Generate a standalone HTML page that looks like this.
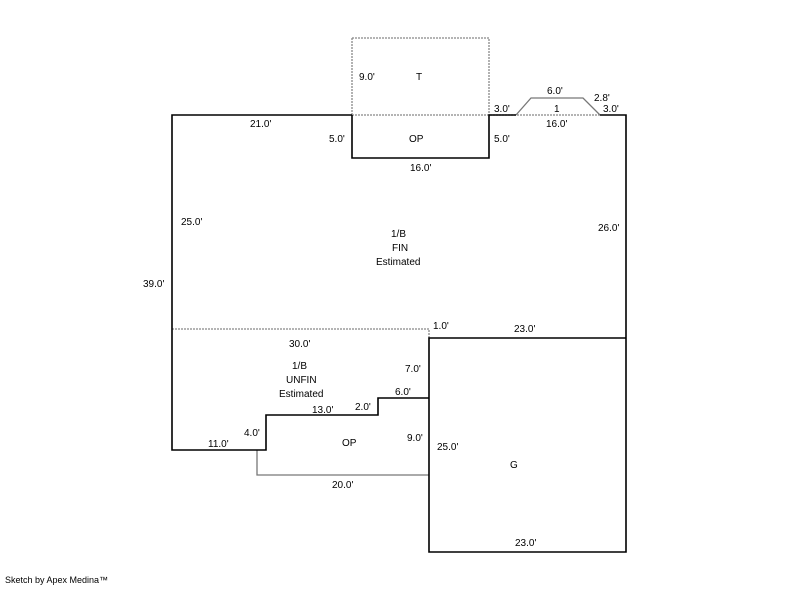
<!DOCTYPE html><html><head><style>body{margin:0;background:#fff}text{font-family:"Liberation Sans",sans-serif;font-size:10px;fill:#000}</style></head><body>
<svg width="800" height="587" xmlns="http://www.w3.org/2000/svg">
<g fill="none" stroke-width="2">
<path d="M352 38H489V115M352 38V115" stroke="#888" stroke-width="1.3" stroke-dasharray="2,1"/>
<path d="M172 329H429V338" stroke="#888" stroke-width="1.3" stroke-dasharray="2,1"/>
<path d="M352 115H600" stroke="#888" stroke-width="1.3" stroke-dasharray="2,1"/>
<path d="M516 115L531 98H583L600 115" stroke="#777" stroke-width="1.3"/>
<path d="M257 450V475H429" stroke="#777" stroke-width="1.3"/>
<path d="M352 115H172V450H266V415H378V398H429" stroke="#000" stroke-width="1.6"/>
<path d="M352 115V158H489V115H516M600 115H626V338H429V552H626V338" stroke="#000" stroke-width="1.6"/>
</g>
<text x="359" y="80">9.0'</text><text x="416" y="80">T</text>
<text x="547" y="94">6.0'</text><text x="594" y="101">2.8'</text>
<text x="494" y="112">3.0'</text><text x="554" y="112">1</text><text x="603" y="112">3.0'</text>
<text x="250" y="127">21.0'</text><text x="546" y="127">16.0'</text>
<text x="329" y="142">5.0'</text><text x="409" y="142">OP</text><text x="494" y="142">5.0'</text>
<text x="410" y="171">16.0'</text>
<text x="181" y="225">25.0'</text><text x="598" y="231">26.0'</text>
<text x="391" y="237">1/B</text><text x="392" y="251">FIN</text><text x="376" y="265">Estimated</text>
<text x="143" y="287">39.0'</text>
<text x="433" y="329">1.0'</text><text x="514" y="332">23.0'</text>
<text x="289" y="347">30.0'</text>
<text x="292" y="369">1/B</text><text x="405" y="372">7.0'</text>
<text x="286" y="383">UNFIN</text><text x="395" y="395">6.0'</text>
<text x="279" y="397">Estimated</text>
<text x="355" y="410">2.0'</text><text x="312" y="413">13.0'</text>
<text x="244" y="436">4.0'</text><text x="407" y="441">9.0'</text><text x="342" y="446">OP</text>
<text x="208" y="447">11.0'</text><text x="437" y="450">25.0'</text>
<text x="510" y="468">G</text>
<text x="332" y="488">20.0'</text>
<text x="515" y="546">23.0'</text>
<text x="5" y="583" style="font-size:9px">Sketch by Apex Medina™</text>
</svg></body></html>
